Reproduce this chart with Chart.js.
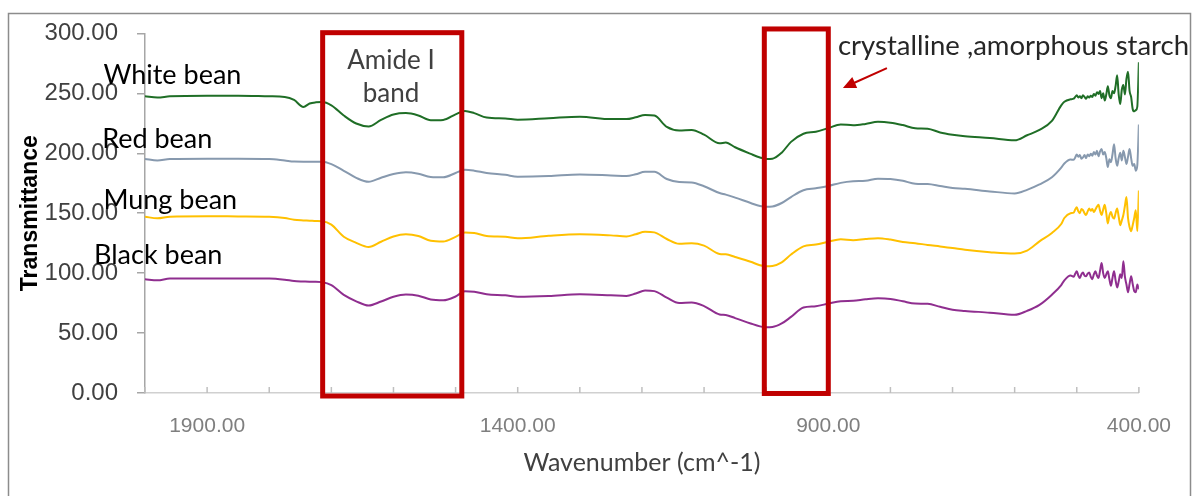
<!DOCTYPE html>
<html>
<head>
<meta charset="utf-8">
<script src="https://cdn.jsdelivr.net/npm/chart.js@4.4.1/dist/chart.umd.min.js"></script>
<style>
  body { margin: 0; background: #fff; }
  #ftir { display: block; }
</style>
</head>
<body>
<canvas id="ftir" width="1192" height="496"></canvas>
<script>
// data
const wavenumbers = [2000,1980,1960,1900,1850,1800,1775,1760,1745,1735,1725,1715,1700,1680,1660,1640,1620,1600,1580,1560,
  1540,1520,1500,1485,1470,1450,1420,1400,1350,1300,1250,1225,1210,1195,1180,1160,1140,1120,1100,1075,
  1065,1050,1025,1010,1000,990,975,960,940,920,900,880,860,840,820,800,780,760,740,720,
  700,680,640,600,580,560,540,525,520,510,
  505,502.5,500,497.5,495,492.5,490,487.5,485,482.5,480,477.5,475,472.5,470,467.5,465,462.5,460,457.5,
  455,452.5,450,447.5,445,442.5,440,437.5,435,432.5,430,427.5,425,422.5,420,417.5,415,412.5,410,407.5,
  405,402.5,400];

const whiteBean = [247.5,246.5,247.5,248,248,247.5,247,244.5,238.6,241.5,242.5,242.7,240,231.5,224.8,222.4,227.8,232.3,233.5,231.5,
  227.5,227.8,232.5,235.3,233.5,229.8,229,228,229.2,230.5,228.5,228.5,230,232,231.5,222,219,219.5,215.5,208.3,
  209,205,199.5,196.5,195.3,195.5,200.5,209.5,216.3,218,221,224,223.4,224.5,226.2,225.5,223.5,220.9,220.5,217.4,
  215.5,214.2,212.7,210.8,215,219.5,227,240,243,245,
  245.5,247,248.5,246.5,247.5,246,248.5,247,245.5,247.5,246.5,248,247,249.5,248,251,249.5,252,246,250,
  244,249,256,248.5,246,252,250,256,265,249,241,253,257,249,262,268,252,247,237,235,
  236,239,276];

const redBean = [195.3,194,195.3,195.5,195.5,195.3,194,193.1,193,193,193,193,191,185.4,179.5,176.2,179.6,182.7,184.2,183,
  180.2,179.9,183.5,186.3,185.5,183.5,182,180.5,181,182.3,181.5,181,182.5,184.5,184.5,178.5,176,175.7,172.5,166.8,
  165.5,163,158.5,156,155.4,155.6,158.5,163.5,169.2,170.8,172.7,175.3,176.6,177,178.8,178.5,177,174.6,174.3,172.7,
  171,170.3,168.2,166.5,169.5,174,180,188,191.5,194.8,
  194.5,196.5,199,197,198.5,195.5,196.5,198.5,196,199,197.5,199.5,198,201,199,202,197.5,201.5,203.5,199,
  201,196,188.5,195,192.5,199,207.5,196,189.5,196,200.5,194,202,197,191,197,203.5,196,189.5,191,
  185.5,190,224];

const mungBean = [147.1,145.7,147.1,147.5,147.3,147,146,144.5,144,143.8,143.5,143.3,140.5,130.4,125.3,121.8,126.2,130.6,132.4,131,
  127,126.4,130.3,133.8,133.5,131,130.3,129,131.2,132.5,131.5,130.6,132.5,134.5,134,128.5,124.5,125,123,116,
  115.7,113.5,109.5,106.5,105.8,106,109,115.5,122.3,123.8,126.2,128.3,127.5,128.5,129.2,128,126,125,123.5,122.3,
  121,119.5,117.5,116.3,118.8,126.5,133.5,141,146,150,
  150.5,153,155,151.5,150,153.5,152.5,150,148.5,151.5,154,152,153.5,151,153,155.5,157,152,148.5,153,
  157,150,141.5,148,151,147,145.5,150,154,147,140,144,148.5,156,163.5,146,138.5,135,140,146,
  152.5,135,169];

const blackBean = [94.8,94,95.5,95.6,95.6,95.5,94.5,93.4,93,92.8,92.8,92.5,90,81.8,76.5,73,76.3,80.3,82.2,81.2,
  78,77.4,80.5,84.8,84.5,82.3,81.5,80.3,80.9,82.3,81.5,81,83,85.5,85,79.5,75,75.5,72.5,65.5,
  65,62.5,58,55.6,54.8,55,58,63.5,71.3,72.4,74.6,76.6,77,78.2,79,78.5,76.5,74.6,74.4,71.9,
  69.5,68.5,67,65.2,68.5,73.5,82,90,94,98,
  97,99.5,101.5,98,96,99,100.5,98,97.5,99.5,100.5,97,95,99,101.5,98,96,102,108.5,100,
  96,99,101.5,95,89.5,96,101.5,94,88,93,99,96,110,97,90.5,84,91,97.5,91,85,
  84,90.5,86.5];

const seriesNames = ['White bean', 'Red bean', 'Mung bean', 'Black bean'];
const seriesColors = ['#1f6e26', '#8799ae', '#ffc000', '#8f2e8f'];
const xTickLabels = [1900, 1400, 900, 400];
const yTicks = [0, 50, 100, 150, 200, 250, 300];

// annotations, placed in data units
const seriesLabels = [
  { text: 'White bean', x: 2067, y: 265 },
  { text: 'Red bean', x: 2069, y: 211.5 },
  { text: 'Mung bean', x: 2067, y: 160.5 },
  { text: 'Black bean', x: 2082, y: 115 }
];
const boxes = [
  { x0: 1714, x1: 1490, y0: -2.5, y1: 300.6 },
  { x0: 1003, x1: 900, y0: -0.4, y1: 303.7 }
];

const toPoints = vals => vals.map((v, i) => ({ x: wavenumbers[i], y: v }));

const allSeries = [whiteBean, redBean, mungBean, blackBean];
const datasets = allSeries.map((vals, i) => ({
  label: seriesNames[i],
  data: toPoints(vals),
  borderColor: seriesColors[i],
  borderWidth: 2,
  pointRadius: 0,
  cubicInterpolationMode: 'monotone',
  fill: false
}));

const decorPlugin = {
  id: 'decor',
  beforeDraw(chart) {
    const ctx = chart.ctx;
    ctx.save();
    ctx.fillStyle = '#fff';
    ctx.fillRect(0, 0, chart.width, chart.height);
    ctx.strokeStyle = '#8c8c8c';
    ctx.lineWidth = 1.5;
    ctx.strokeRect(8.5, 13.5, 1182, 520);
    ctx.restore();
  },
  afterDraw(chart) {
    const ctx = chart.ctx;
    const xs = chart.scales.x, ys = chart.scales.y;
    ctx.save();

    // little inward tick marks on the x axis
    ctx.strokeStyle = '#bfbfbf';
    ctx.lineWidth = 1.5;
    xs.ticks.forEach(t => {
      const px = xs.getPixelForValue(t.value);
      ctx.beginPath();
      ctx.moveTo(px, ys.bottom);
      ctx.lineTo(px, ys.bottom - 6);
      ctx.stroke();
    });

    // red boxes
    ctx.strokeStyle = '#c00000';
    ctx.lineWidth = 5;
    ctx.lineJoin = 'miter';
    boxes.forEach(b => {
      const l = xs.getPixelForValue(b.x0), r = xs.getPixelForValue(b.x1);
      const t = ys.getPixelForValue(b.y1), bt = ys.getPixelForValue(b.y0);
      ctx.strokeRect(l, t, r - l, bt - t);
    });

    // series names
    ctx.fillStyle = '#000';
    ctx.font = '27px Lato';
    ctx.textAlign = 'left';
    ctx.textBaseline = 'middle';
    seriesLabels.forEach(s => {
      ctx.fillText(s.text, xs.getPixelForValue(s.x), ys.getPixelForValue(s.y));
    });

    // Amide I band
    ctx.fillStyle = '#404040';
    ctx.font = '26px Lato';
    ctx.textAlign = 'center';
    ctx.fillText('Amide I', xs.getPixelForValue(1604), ys.getPixelForValue(277));
    ctx.fillText('band', xs.getPixelForValue(1604), ys.getPixelForValue(249.6));

    // starch label and arrow
    ctx.fillStyle = '#262626';
    ctx.font = '27.5px Lato';
    ctx.textAlign = 'left';
    ctx.fillText('crystalline ,amorphous starch', xs.getPixelForValue(884.5), ys.getPixelForValue(289.3));

    const ax0 = xs.getPixelForValue(805.6), ay0 = ys.getPixelForValue(271.1);
    const ax1 = xs.getPixelForValue(876.5), ay1 = ys.getPixelForValue(254.5);
    const ang = Math.atan2(ay1 - ay0, ax1 - ax0);
    ctx.strokeStyle = '#c00000';
    ctx.fillStyle = '#c00000';
    ctx.lineWidth = 2;
    ctx.beginPath();
    ctx.moveTo(ax0, ay0);
    ctx.lineTo(ax1 - 9 * Math.cos(ang), ay1 - 9 * Math.sin(ang));
    ctx.stroke();
    ctx.beginPath();
    ctx.moveTo(ax1, ay1);
    ctx.lineTo(ax1 - 13 * Math.cos(ang) + 6 * Math.sin(ang), ay1 - 13 * Math.sin(ang) - 6 * Math.cos(ang));
    ctx.lineTo(ax1 - 13 * Math.cos(ang) - 6 * Math.sin(ang), ay1 - 13 * Math.sin(ang) + 6 * Math.cos(ang));
    ctx.closePath();
    ctx.fill();

    ctx.restore();
  }
};

const chart = new Chart(document.getElementById('ftir'), {
  type: 'line',
  data: { datasets },
  options: {
    responsive: false,
    animation: false,
    layout: { padding: { top: 30, right: 53, left: 0, bottom: 0 } },
    plugins: { legend: { display: false }, tooltip: { enabled: false } },
    scales: {
      x: {
        type: 'linear',
        reverse: true,
        min: 400,
        max: 2000,
        afterFit: s => { s.height = 103; },
        grid: { display: false, drawTicks: false },
        border: { display: true, color: '#d0d0d0', width: 1.5 },
        ticks: {
          stepSize: 100,
          autoSkip: false,
          maxRotation: 0,
          padding: 21,
          color: '#7f7f7f',
          font: { family: 'Liberation Sans', size: 21 },
          callback: v => xTickLabels.includes(v) ? v.toFixed(2) : ''
        },
        title: {
          display: true,
          text: 'Wavenumber (cm^-1)',
          color: '#404040',
          font: { family: 'Lato', size: 25 },
          padding: { top: 0, bottom: 18 }
        }
      },
      y: {
        min: 0,
        max: 300,
        afterFit: s => { s.width = 145; },
        afterBuildTicks: s => { s.ticks = yTicks.map(v => ({ value: v })); },
        grid: { drawOnChartArea: false, drawTicks: true, tickLength: 8, color: '#a6a6a6', lineWidth: 1.5 },
        border: { display: true, color: '#a6a6a6', width: 1.5 },
        ticks: {
          padding: 19,
          color: '#404040',
          font: { family: 'Liberation Sans', size: 24 },
          callback: v => v.toFixed(2)
        },
        title: {
          display: true,
          text: 'Transmittance',
          color: '#000',
          font: { family: 'Liberation Sans', size: 23, weight: 'bold' },
          padding: { top: 17, bottom: 0 }
        }
      }
    }
  },
  plugins: [decorPlugin]
});
</script>
</body>
</html>
